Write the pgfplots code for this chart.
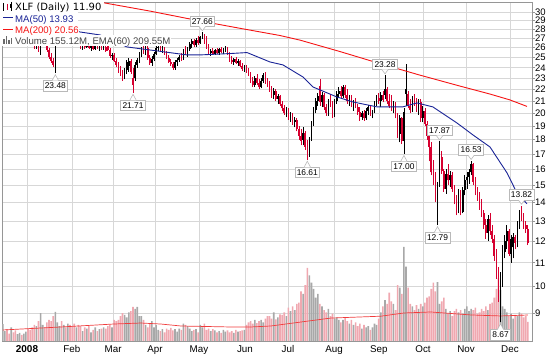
\documentclass[border=0pt]{standalone}
\usepackage{fontspec}
\setmainfont{Liberation Sans}
\newfontfamily\dvs{DejaVu Sans}
\usepackage{pgfplots}
\usepackage{pgfplotstable}
\pgfplotsset{compat=1.18}

\definecolor{cred}{RGB}{214,0,48}
\definecolor{mablue}{RGB}{25,35,150}
\definecolor{mared}{RGB}{245,20,20}
\definecolor{vpink}{RGB}{240,168,176}
\definecolor{vgray}{RGB}{168,168,168}
\definecolor{vema}{RGB}{240,60,60}
\definecolor{gridc}{RGB}{215,215,215}
\definecolor{framec}{RGB}{150,150,150}
\definecolor{lblc}{RGB}{185,185,185}
\definecolor{voltext}{RGB}{70,70,70}

% d = trading day index, O H L C prices, c = 1 red (down) / 0 black (up), V = volume (millions)
\pgfplotstableread{
d O H L C c V
0 29.6 30.0 29.3 29.8 0 137
1 29.8 30.3 29.5 30.1 0 80
2 30.1 30.4 29.6 29.7 1 95
3 29.7 29.9 28.9 29.0 1 60
4 29.0 29.4 28.7 29.3 0 110
5 29.3 29.6 28.9 29.1 1 70
6 29.1 29.5 28.6 28.8 1 85
7 28.8 29.2 28.5 29.0 0 55
8 29.0 29.4 28.8 29.2 0 65
9 29.2 29.3 28.6 28.7 1 50
10 28.7 29.0 28.3 28.9 0 60
11 28.9 29.1 28.6 28.9 0 75
12 28.9 29.0 27.9 28.1 1 100
13 28.1 28.3 27.4 27.6 1 90
14 27.6 27.8 26.8 27.0 1 110
15 27.0 27.3 25.9 26.4 1 130
16 26.4 26.9 25.9 26.7 0 120
17 26.7 27.0 25.6 25.8 1 160
18 25.8 26.6 25.3 26.4 0 225
19 26.4 27.2 26.3 27.0 0 130
20 27.0 27.3 26.3 26.5 1 110
21 26.5 26.7 25.6 25.8 1 150
22 25.8 26.0 24.9 25.1 1 170
23 25.1 25.5 24.5 24.7 1 160
24 24.7 25.0 24.1 24.3 1 200
25 24.3 26.3 23.48 26.0 0 235
26 26.4 27.5 26.35 27.3 0 150
27 27.3 28.0 26.9 27.7 0 120
28 27.7 28.5 27.2 27.4 1 160
29 27.4 28.2 27.0 28.0 0 130
30 28.0 28.6 27.5 27.8 1 110
31 27.8 28.8 27.6 28.5 0 140
32 28.5 28.9 27.9 28.2 1 130
33 28.2 28.4 27.1 27.3 1 120
34 27.3 27.5 26.5 26.7 1 140
35 26.7 27.0 26.3 26.9 0 110
36 26.9 27.2 26.4 26.5 1 130
37 26.5 26.8 25.9 26.0 1 120
38 26.0 26.6 25.8 26.4 0 80
39 26.4 26.7 25.9 26.1 1 110
40 26.1 26.8 26.0 26.6 0 100
41 26.6 26.9 25.9 26.0 1 120
42 26.0 26.5 25.7 26.3 0 70
43 26.3 26.6 25.8 25.9 1 90
44 25.9 26.6 25.8 26.4 0 110
45 26.4 26.7 25.9 26.0 1 80
46 26.0 26.5 25.7 26.2 0 95
47 26.2 26.4 25.8 25.9 1 100
48 25.9 26.3 25.8 26.1 0 110
49 26.1 26.5 25.6 25.7 1 100
50 26.2 26.4 25.7 25.8 1 120
51 25.8 26.0 25.0 25.2 1 130
52 25.2 25.5 24.8 25.3 0 110
53 25.3 25.5 24.6 24.7 1 170
54 24.7 25.0 24.1 24.3 1 160
55 24.3 24.6 23.5 23.7 1 170
56 23.7 24.2 23.2 23.4 1 200
57 23.4 23.8 22.8 23.0 1 225
58 23.0 24.0 22.9 23.8 0 210
59 23.8 24.8 23.4 24.6 0 190
60 24.2 25.0 23.6 24.7 0 230
61 24.7 24.9 23.4 23.6 1 240
62 22.4 24.0 21.71 23.0 1 275
63 23.0 24.6 22.8 24.3 0 260
64 24.3 25.0 24.0 24.8 0 275
65 24.8 25.6 24.5 25.3 0 200
66 25.3 26.1 25.1 25.9 0 200
67 25.9 26.4 25.4 25.6 1 170
68 25.6 26.3 25.3 26.0 0 130
69 26.0 26.2 24.8 25.0 1 110
70 25.0 25.3 24.3 24.5 1 140
71 24.5 25.2 24.2 24.9 0 160
72 24.9 25.6 24.7 25.4 0 110
73 25.4 26.2 25.3 26.0 0 130
74 26.0 26.3 25.7 26.1 0 90
75 26.1 26.4 25.6 25.8 1 80
76 25.8 26.2 25.5 26.0 0 95
77 26.0 26.1 25.3 25.4 1 70
78 25.4 25.7 24.9 25.0 1 100
79 25.0 25.3 24.5 24.6 1 90
80 24.6 24.9 24.2 24.4 1 105
81 24.4 24.6 23.8 24.0 1 85
82 24.0 24.8 23.8 24.6 0 95
83 24.6 25.0 24.2 24.8 0 75
84 24.8 25.3 24.6 25.1 0 100
85 25.1 25.5 24.7 24.9 1 90
86 24.9 25.9 24.8 25.7 0 140
87 25.7 26.2 25.3 25.4 1 130
88 25.4 26.1 25.1 25.9 0 120
89 25.9 26.6 25.7 26.4 0 100
90 26.4 26.9 26.0 26.7 0 80
91 26.7 26.9 26.1 26.3 1 90
92 26.3 27.0 26.1 26.8 0 95
93 26.8 27.2 26.3 26.5 1 70
94 26.5 27.3 26.4 27.1 0 130
95 27.1 27.66 26.9 27.4 0 110
96 27.4 27.5 26.4 26.6 1 140
97 26.6 27.2 25.9 26.0 1 90
98 26.0 26.4 25.3 25.5 1 100
99 25.5 25.9 25.2 25.7 0 80
100 25.7 26.0 25.3 25.4 1 95
101 25.4 25.9 25.3 25.8 0 85
102 25.8 26.0 25.4 25.5 1 70
103 25.5 26.0 25.3 25.9 0 80
104 25.9 26.1 25.5 25.6 1 65
105 25.6 26.0 25.4 25.8 0 90
106 25.8 26.2 25.6 26.0 0 75
107 26.0 26.1 25.3 25.4 1 85
108 25.4 25.6 24.6 24.8 1 70
109 24.8 25.2 24.4 24.6 1 80
110 24.6 25.0 24.3 24.9 0 65
111 24.9 25.1 24.4 24.5 1 90
112 24.5 24.9 24.2 24.7 0 75
113 24.7 24.8 24.1 24.2 1 80
114 24.2 24.5 23.7 23.9 1 85
115 23.9 24.3 23.6 24.1 0 90
116 24.1 24.3 23.5 23.6 1 130
117 23.6 24.0 23.2 23.3 1 150
118 23.3 23.6 22.6 22.8 1 160
119 22.8 23.1 22.2 22.4 1 140
120 22.4 23.2 22.2 23.0 0 170
121 23.0 23.4 22.4 22.6 1 145
122 22.6 22.9 22.0 22.2 1 160
123 22.2 23.0 22.1 22.8 0 170
124 22.8 23.5 22.6 23.3 0 150
125 23.3 23.6 22.5 22.7 1 180
126 22.7 23.0 22.2 22.4 1 200
127 22.4 22.8 21.8 22.0 1 200
128 22.0 22.3 21.3 21.5 1 180
129 21.5 22.1 21.2 21.9 0 230
130 21.9 22.0 21.0 21.2 1 175
131 21.2 21.6 20.8 21.4 0 190
132 21.4 21.5 20.6 20.8 1 215
133 20.8 21.0 20.2 20.4 1 210
134 20.4 20.7 19.9 20.0 1 230
135 20.0 20.5 19.7 20.3 0 200
136 20.3 20.4 19.5 19.6 1 270
137 19.6 20.1 19.3 19.9 0 240
138 19.9 20.0 19.1 19.3 1 280
139 19.3 19.7 18.9 19.5 0 250
140 19.5 19.6 18.6 18.8 1 300
141 18.8 19.0 18.0 18.3 1 310
142 18.3 18.8 17.6 17.9 1 400
143 18.0 18.9 17.6 18.5 0 380
144 18.5 18.6 17.3 17.5 1 450
145 17.5 18.0 16.61 16.9 1 590
146 16.9 18.2 16.8 18.0 0 530
147 18.0 19.4 17.9 19.2 0 470
148 19.2 20.5 19.0 20.3 0 420
149 20.3 21.3 20.0 21.0 0 350
150 21.0 21.7 20.6 21.4 0 380
151 22.3 22.9 20.6 20.9 1 300
152 20.9 21.8 20.5 21.5 0 280
153 21.5 21.7 20.3 20.5 1 250
154 20.5 20.8 19.8 20.0 1 230
155 20.0 21.2 19.8 21.0 0 260
156 21.0 21.6 20.5 20.7 1 200
157 20.7 21.0 19.6 19.8 1 220
158 19.8 21.2 19.7 21.0 0 180
159 21.0 21.9 20.8 21.6 0 190
160 21.6 22.2 21.3 21.9 0 170
161 21.9 22.3 21.2 21.4 1 150
162 21.4 22.4 21.3 22.2 0 170
163 22.2 22.4 21.3 21.5 1 190
164 21.5 22.0 20.8 21.0 1 160
165 21.0 21.5 20.6 21.3 0 140
166 21.3 21.5 20.5 20.7 1 170
167 20.7 21.1 20.2 20.9 0 130
168 20.9 21.3 20.4 20.5 1 150
169 20.5 20.8 19.9 20.1 1 120
170 20.1 20.5 19.4 19.7 1 140
171 19.7 20.2 19.5 20.0 0 100
172 20.0 20.3 19.4 19.6 1 130
173 19.6 20.4 19.5 20.2 0 110
174 20.2 20.7 19.9 20.5 0 120
175 20.5 20.6 19.8 20.0 1 90
176 20.0 20.3 19.6 20.2 0 110
177 20.2 21.0 20.0 20.8 0 140
178 20.8 21.5 20.6 21.3 0 130
179 21.3 21.7 20.8 21.0 1 180
180 21.0 21.8 20.5 21.5 0 230
181 21.5 21.9 20.9 21.1 1 280
182 21.5 23.28 21.2 22.0 0 330
183 22.0 22.2 20.8 21.0 1 300
184 21.0 21.6 20.4 20.6 1 390
185 20.6 21.5 20.2 20.4 1 320
186 20.4 21.0 20.0 20.7 0 300
187 20.7 20.9 19.6 19.8 1 250
188 19.8 20.0 18.1 18.4 1 450
189 18.4 19.9 17.8 19.6 0 430
190 19.6 19.7 17.7 17.9 1 380
191 17.9 20.4 17.00 20.1 0 760
192 22.0 24.4 20.6 21.6 0 600
193 21.6 21.9 20.4 20.6 1 430
194 20.6 21.2 20.0 20.3 1 300
195 20.3 21.4 20.1 21.1 0 280
196 21.1 21.6 20.6 20.9 1 250
197 20.9 21.3 20.1 20.5 1 290
198 20.5 21.2 19.9 20.9 0 260
199 20.9 21.2 19.3 19.6 1 300
200 19.6 20.6 19.3 20.2 0 280
201 20.2 20.4 19.0 19.2 1 310
202 19.2 19.4 18.0 18.3 1 350
203 18.3 18.4 16.5 17.5 1 360
204 17.5 17.8 15.6 15.8 1 420
205 15.8 16.6 15.0 15.2 1 470
206 15.2 15.8 14.0 14.3 1 400
207 14.3 15.2 12.79 14.7 0 475
208 15.1 17.87 14.9 16.8 0 300
209 16.8 17.2 15.7 15.9 1 320
210 15.9 16.0 14.6 14.8 1 350
211 14.8 16.0 14.5 15.7 0 260
212 15.7 16.3 15.0 15.3 1 220
213 15.3 15.9 14.9 15.6 0 240
214 15.6 15.8 14.6 14.8 1 200
215 14.8 15.0 13.9 14.1 1 240
216 14.1 14.4 13.3 13.6 1 260
217 13.6 14.8 13.4 14.5 0 230
218 14.5 14.7 13.3 13.5 1 250
219 13.5 14.9 13.4 14.7 0 220
220 14.7 15.6 14.4 15.3 0 260
221 15.3 15.8 14.8 15.5 0 280
222 15.5 16.0 15.1 15.8 0 240
223 15.8 16.53 15.6 16.3 0 260
224 16.3 16.4 15.0 15.2 1 250
225 15.2 15.5 14.4 14.6 1 270
226 14.6 14.9 14.1 14.3 1 220
227 14.3 14.6 13.6 13.8 1 230
228 13.8 14.2 13.2 13.4 1 260
229 13.4 13.6 12.6 12.8 1 240
230 12.8 13.1 12.1 12.4 1 280
231 12.4 13.3 12.0 13.1 0 250
232 13.1 13.4 12.3 12.5 1 300
233 12.5 12.8 11.9 12.1 1 310
234 12.1 12.3 11.1 11.3 1 350
235 11.3 11.6 10.3 10.5 1 420
236 10.5 10.8 9.4 9.6 1 510
237 9.6 10.6 8.67 10.4 0 410
238 10.4 11.8 10.0 11.5 0 280
239 11.5 12.3 11.2 12.0 0 260
240 12.0 12.8 11.6 12.5 0 230
241 12.5 12.6 11.3 11.4 1 200
242 11.4 12.3 11.0 12.1 0 220
243 11.7 12.4 11.2 12.2 0 180
244 12.2 12.3 11.6 11.9 1 210
245 11.9 13.0 11.7 12.8 0 200
246 12.8 13.6 12.6 13.5 0 230
247 13.5 13.82 13.0 13.2 1 220
248 13.2 13.4 12.6 12.8 1 190
249 12.8 13.0 12.4 12.6 1 200
250 12.6 12.8 11.8 11.90 1 155
}\data

\pgfplotsset{
  chartgeom/.style={at={(2bp,16bp)}, anchor=south west, scale only axis,
    width=530bp, height=339bp, xmin=-0.4, xmax=252.0},
}
\tikzset{
  lblbox/.style={draw=lblc, fill=white, line width=0.6bp, inner xsep=1.8bp, inner ysep=0pt,
    minimum height=10.5bp, text height=6bp, text depth=0bp,
    font=\fontsize{8.4bp}{8.4bp}\selectfont},
}

\newcommand\calloutbelow[3]{%
  \node[lblbox, anchor=north] at ([yshift=-7bp]axis cs:#1,#2) {#3};
  \fill[white] ([xshift=-3bp,yshift=-7.5bp]axis cs:#1,#2) -- ([yshift=-1.5bp]axis cs:#1,#2) -- ([xshift=3bp,yshift=-7.5bp]axis cs:#1,#2) -- cycle;
  \draw[lblc, line width=0.6bp] ([xshift=-3bp,yshift=-7bp]axis cs:#1,#2) -- ([yshift=-1.5bp]axis cs:#1,#2) -- ([xshift=3bp,yshift=-7bp]axis cs:#1,#2);}
\newcommand\calloutabove[3]{%
  \node[lblbox, anchor=south] at ([yshift=5.5bp]axis cs:#1,#2) {#3};
  \fill[white] ([xshift=-3bp,yshift=6bp]axis cs:#1,#2) -- ([yshift=1.5bp]axis cs:#1,#2) -- ([xshift=3bp,yshift=6bp]axis cs:#1,#2) -- cycle;
  \draw[lblc, line width=0.6bp] ([xshift=-3bp,yshift=5.5bp]axis cs:#1,#2) -- ([yshift=1.5bp]axis cs:#1,#2) -- ([xshift=3bp,yshift=5.5bp]axis cs:#1,#2);}

\begin{document}
\begin{tikzpicture}
\useasboundingbox (0,0) rectangle (547bp,357bp);

% ---- frame, grid and ticks (price scale, log) ----
\begin{axis}[chartgeom, ymode=log, ymin=8.045, ymax=31.22,
  xtick={11.5,32.9,52.5,72.5,93.4,115.3,135.8,157.7,179.1,200.1,220.6,241.5},
  xticklabels={{\fontsize{10bp}{10bp}\selectfont\bfseries 2008},Feb,Mar,Apr,May,Jun,Jul,Aug,Sep,Oct,Nov,Dec},
  ytick={9,10,11,12,13,14,15,16,17,18,19,20,21,22,23,24,25,26,27,28,29,30},
  yticklabels={9,10,11,12,13,14,15,16,17,18,19,20,21,22,23,24,25,26,27,28,29,30},
  ytick pos=right, yticklabel pos=right, xtick pos=bottom,
  grid=major, major grid style={draw=gridc, line width=0.6bp},
  axis line style={draw=framec, line width=0.7bp},
  tick style={draw=framec, line width=0.6bp},
  xtick style={draw=none},
  major tick length=3bp, tick align=outside,
  yticklabel style={font=\fontsize{9.5bp}{9.5bp}\selectfont, anchor=west, inner sep=0pt},
  xticklabel style={font=\fontsize{9.8bp}{9.8bp}\selectfont, anchor=base, inner sep=0pt, yshift=-9bp},
  ]
  \addplot[draw=none, forget plot] coordinates {(0,10) (250,20)};
\end{axis}

% ---- volume ----
\begin{axis}[chartgeom, hide axis, ymin=0, ymax=2734]
  \addplot[ybar, bar width=1.6bp, bar shift=0pt, fill=vpink, draw=none,
    restrict expr to domain={\thisrow{c}}{0.5:1.5}] table[x=d, y=V] {\data};
  \addplot[ybar, bar width=1.6bp, bar shift=0pt, fill=vgray, draw=none,
    restrict expr to domain={\thisrow{c}}{-0.5:0.5}] table[x=d, y=V] {\data};
  \addplot[vema, line width=0.7bp] coordinates {
    (0,89) (27.6,113) (52.9,137) (65.7,145) (75.2,137) (84.8,121) (108.6,113)
    (118,113) (127.6,121) (141.9,153) (156.2,185) (170.5,194) (180,200)
    (191,226) (203.8,234) (222.9,210) (237,202) (250,209.55)};
\end{axis}

% ---- price ----
\begin{axis}[chartgeom, hide axis, ymode=log, ymin=8.045, ymax=31.22, clip mode=individual]
  % wicks
  \addplot[draw=none, mark=none, restrict expr to domain={\thisrow{c}}{0.5:1.5},
    error bars/.cd, y dir=plus, y explicit, error mark=none,
    error bar style={line width=0.8bp, draw=cred}]
    table[x=d, y=L, y error expr=\thisrow{H}-\thisrow{L}] {\data};
  \addplot[draw=none, mark=none, restrict expr to domain={\thisrow{c}}{-0.5:0.5},
    error bars/.cd, y dir=plus, y explicit, error mark=none,
    error bar style={line width=0.8bp, draw=black}]
    table[x=d, y=L, y error expr=\thisrow{H}-\thisrow{L}] {\data};
  % bodies
  \addplot[draw=none, mark=none, restrict expr to domain={\thisrow{c}}{0.5:1.5},
    error bars/.cd, y dir=plus, y explicit, error mark=none,
    error bar style={line width=1.6bp, draw=cred}]
    table[x=d, y expr={min(\thisrow{O},\thisrow{C})}, y error expr={abs(\thisrow{C}-\thisrow{O})}] {\data};
  \addplot[draw=none, mark=none, restrict expr to domain={\thisrow{c}}{-0.5:0.5},
    error bars/.cd, y dir=plus, y explicit, error mark=none,
    error bar style={line width=1.6bp, draw=black}]
    table[x=d, y expr={min(\thisrow{O},\thisrow{C})}, y error expr={abs(\thisrow{C}-\thisrow{O})}] {\data};
  % MA(200)
  \addplot[mared, line width=0.9bp] coordinates {
    (40,31.6) (46.3,31.2) (70.1,30.1) (92.5,29.0) (112.9,28.1) (132,27.3) (141.5,26.8)
    (160.6,25.6) (179.6,24.4) (198.6,23.3) (217.7,22.3) (232,21.6) (241.5,21.1) (249.6,20.56)};
  % MA(50)
  \addplot[mablue, line width=0.9bp] coordinates {
    (0,30.5) (20,29.0) (30,28.2) (36.7,27.69) (46.3,27.36) (59.1,26.08) (73.4,25.67)
    (87.7,25.26) (93.9,25.26) (108.2,25.4) (116.3,25.5) (127.2,24.56) (133.4,24.27)
    (142.9,23.13) (147.7,22.22) (159.1,21.35) (166.7,20.93) (178.2,20.52) (190.5,20.52)
    (197.2,20.85) (204.8,20.52) (216.3,19.24) (223.9,18.34) (232,17.48) (240.1,15.76)
    (244.8,14.55) (249.6,13.93)};
  % callouts
  \calloutbelow{25}{23.48}{23.48}
  \calloutbelow{62}{21.71}{21.71}
  \calloutabove{95}{27.66}{27.66}
  \calloutbelow{145}{16.61}{16.61}
  \calloutabove{182}{23.28}{23.28}
  \calloutbelow{191}{17.00}{17.00}
  \calloutabove{208}{17.87}{17.87}
  \calloutbelow{207}{12.79}{12.79}
  \calloutabove{223}{16.53}{16.53}
  \calloutbelow{237}{8.67}{8.67}
  \calloutabove{247}{13.82}{13.82}
\end{axis}

% ---- legend ----
\begin{scope}[x=1bp, y=1bp]
  \fill[white] (0,345) rectangle (104,357);
  \fill[white] (0,333.5) rectangle (78,345);
  \fill[white] (0,322) rectangle (79,333.5);
  \fill[white] (0,311) rectangle (171,322);
  % price icon
  \draw[black, line width=0.7] (3.5,354) -- (3.5,346);
  \fill[black] (2.8,352) rectangle (4.2,348);
  \draw[cred, line width=0.7] (7.5,353) -- (7.5,347);
  \fill[cred] (6.8,352) rectangle (8.2,349);
  \draw[black, line width=0.7] (11,355) -- (11,346);
  \fill[black] (10.3,353) rectangle (11.7,349);
  \node[anchor=base west, inner sep=0pt, font=\dvs\fontsize{10bp}{10bp}\selectfont] at (15,346.3) {XLF (Daily) 11.90};
  \draw[mablue, line width=1.3] (3,339.3) -- (13,339.3);
  \node[anchor=base west, inner sep=0pt, text=mablue, font=\fontsize{9.6bp}{9.6bp}\selectfont] at (15,335) {MA(50) 13.93};
  \draw[mared, line width=1.3] (3,327.7) -- (13,327.7);
  \node[anchor=base west, inner sep=0pt, text=mared, font=\fontsize{9.6bp}{9.6bp}\selectfont] at (15,323.7) {MA(200) 20.56};
  % volume icon
  \fill[voltext!80] (3,313) rectangle (4.6,318);
  \fill[voltext!80] (5.6,313) rectangle (7.2,320.5);
  \fill[voltext!80] (8.2,313) rectangle (9.8,316.5);
  \fill[voltext!80] (10.8,313) rectangle (12.4,319);
  \node[anchor=base west, inner sep=0pt, text=voltext, font=\fontsize{9.6bp}{9.6bp}\selectfont] at (15,312.7) {Volume 155.12M, EMA(60) 209.55M};
\end{scope}
\end{tikzpicture}
\end{document}
